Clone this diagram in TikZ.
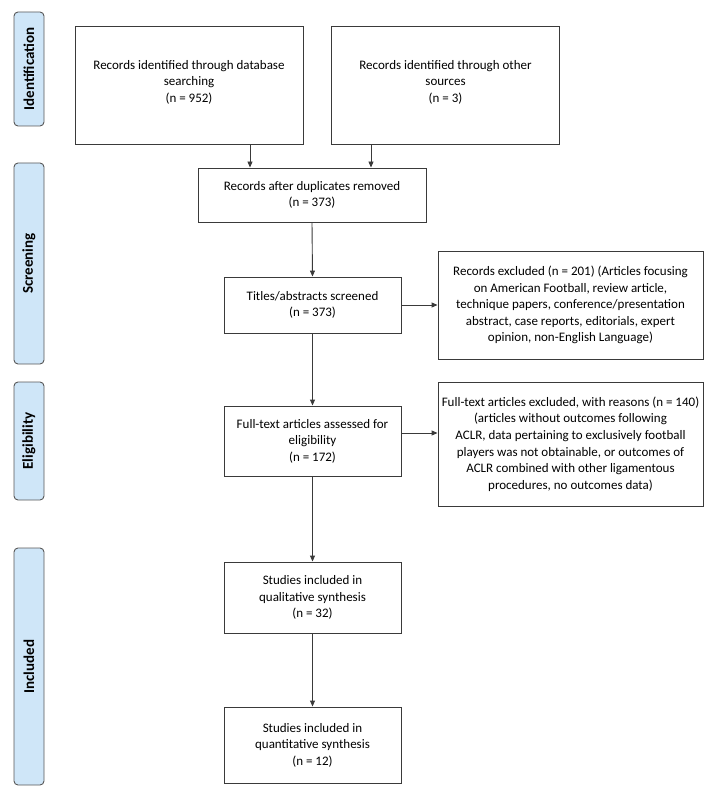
\documentclass[tikz,border=0pt]{standalone}
\usepackage{fontspec}
\setmainfont{Carlito}
\usetikzlibrary{arrows.meta}
\definecolor{stageblue}{HTML}{CFE6F8}
\definecolor{boxgray}{HTML}{3A3A3A}

\begin{document}
\begin{tikzpicture}[x=1pt,y=-1pt,
	box/.style={draw=boxgray,line width=0.9pt,align=center,inner sep=0pt,font=\fontsize{13}{16.6}\selectfont},
	stage/.style={draw=boxgray!85,fill=stageblue,rounded corners=4pt,line width=0.9pt,rotate=90,minimum height=30pt,inner sep=0pt,font=\fontsize{15}{17}\selectfont\bfseries},
	flow/.style={-{Triangle[length=6pt,width=5pt]},line width=0.9pt,draw=boxgray}]
			%%%%% START %%%%%
			\useasboundingbox (0,0) rectangle (718,794);
			
			\node[stage, minimum width=114pt] (ident) at (29, 69) {Identification};
			\node[stage, minimum width=201pt] (screen) at (29, 263.5) {Screening};
			\node[stage, minimum width=118pt] (elig) at (29, 441) {Eligibility};
			\node[stage, minimum width=237pt] (incl) at (29, 666.5) {Included};
			
			\node[box, minimum width=228pt, minimum height=118pt] (db) at (189, 85) {Records identified through database\\searching\\(n = 952)\\[-9pt]};
			\node[box, minimum width=228pt, minimum height=118pt] (other) at (445.5, 85) {Records identified through other\\sources\\(n = 3)\\[-9pt]};
			
			\node[box, minimum width=228pt, minimum height=54pt] (dup) at (312, 195) {Records after duplicates removed\\(n = 373)};
			\node[box, minimum width=177pt, minimum height=56pt] (titles) at (312.5, 305) {Titles/abstracts screened\\(n = 373)};
			\node[box, minimum width=265pt, minimum height=108pt] (excl1) at (570.5, 305) {Records excluded (n = 201) (Articles focusing\\on American Football, review article,\\technique papers, conference/presentation\\abstract, case reports, editorials, expert\\opinion, non-English Language)};
			
			\node[box, minimum width=177pt, minimum height=70pt] (full) at (312.5, 441) {Full-text articles assessed for\\eligibility\\(n = 172)};
			\node[box, minimum width=265pt, minimum height=124pt] (excl2) at (570.5, 444) {Full-text articles excluded, with reasons (n = 140)\\(articles without outcomes following\\ACLR, data pertaining to exclusively football\\players was not obtainable, or outcomes of\\ACLR combined with other ligamentous\\procedures, no outcomes data)};
			
			\node[box, minimum width=177pt, minimum height=71pt] (qual) at (312.5, 597.5) {Studies included in\\qualitative synthesis\\(n = 32)};
			\node[box, minimum width=177pt, minimum height=76pt] (quant) at (312.5, 745) {Studies included in\\quantitative synthesis\\(n = 12)};
			
			\coordinate (dbout) at ([xshift=61pt]db.south);
			\coordinate (otherout) at ([xshift=-74.5pt]other.south);
			\coordinate (fullout) at ([yshift=8pt]full.east);
			
			\draw[flow] (dbout) -- (dbout |- dup.north);
			\draw[flow] (otherout) -- (otherout |- dup.north);
			\draw[flow] (dup.south) -- (titles.north);
			\draw[flow] (titles.east) -- (excl1.west);
			\draw[flow] (titles.south) -- (full.north);
			\draw[flow] (fullout) -- (fullout -| excl2.west);
			\draw[flow] (full.south) -- (qual.north);
			\draw[flow] (qual.south) -- (quant.north);
			
			%%%%% END %%%%%
		\end{tikzpicture}
\end{document}
